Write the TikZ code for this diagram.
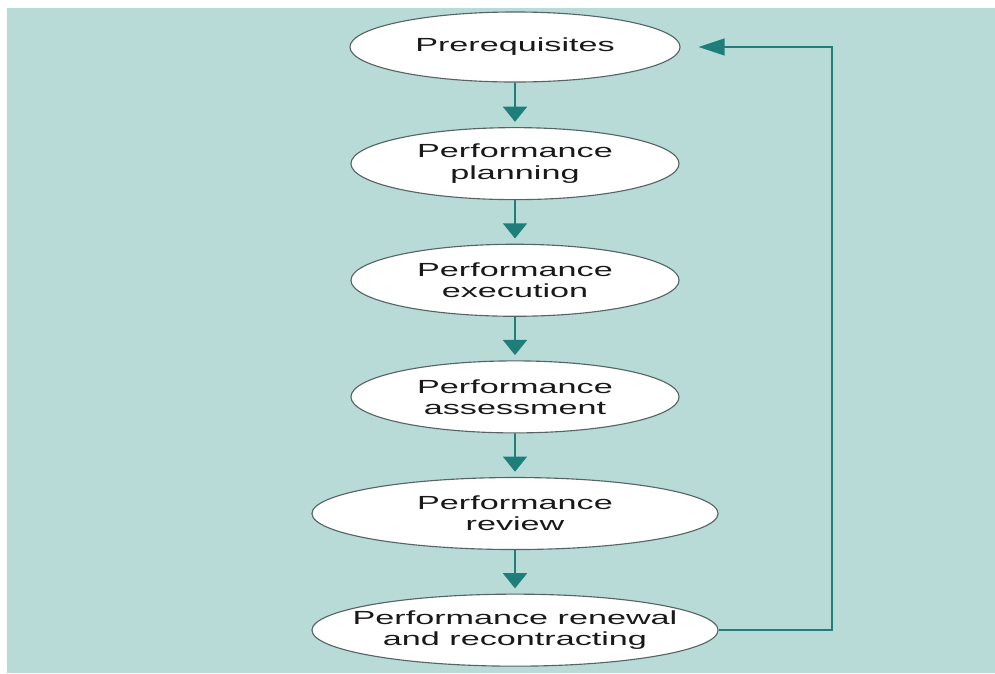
\documentclass[tikz,border=0pt]{standalone}
\usepackage{fontspec}
\newfontfamily\stagefont{Liberation Sans}[FakeStretch=1.8]
\usetikzlibrary{trees}
\usetikzlibrary{shapes}
\usetikzlibrary{arrows.meta}
\definecolor{bgteal}{HTML}{B8DBD8}
\definecolor{arrowteal}{HTML}{1E7E79}
\definecolor{rimgray}{HTML}{566464}
\tikzset{
    mynode/.style = {ellipse, draw=rimgray, line width=0.8pt, fill=white, align=center, inner sep=0pt, inner xsep=-0.6cm, minimum width=8.2cm, minimum height=1.8cm, font=\stagefont\fontsize{13.5}{15}\selectfont, text=black!90},
    mynodew/.style = {mynode, minimum width=10.15cm},
    edgen/.style = {-{Triangle[width=0.6cm,length=0.38cm]}, line width=1.4pt, arrowteal},
    edgeb/.style = {-{Triangle[width=0.42cm,length=0.65cm]}, line width=1.4pt, arrowteal}, % back
}
\begin{document}
\begin{tikzpicture}[
  x=0.025cm, y=-0.025cm,
  grow=down,
  level distance=2.915cm,
  edge from parent/.style={draw, edgen, shorten >=0.13cm}]
  \useasboundingbox (0,0) rectangle (995,673);
  \fill[bgteal] (7,8) rectangle (995,673);
  \node[mynode, minimum width=8.25cm, minimum height=1.75cm] (pre) at (515,47) {Prerequisites}
    child {node[mynode] (plan) {Performance\\planning}
      child {node[mynode] (exec) {Performance\\execution}
        child {node[mynode] (asse) {Performance\\assessment}
          child {node[mynodew] (revi) {Performance\\review}
            child {node[mynodew] (rene) {Performance renewal\\and recontracting}}
          }
        }
      }
    };
  \coordinate (turn) at (832,47);
  \draw[edgeb, shorten >=0.45cm] (rene.east) -| (turn) -- (pre.east);
\end{tikzpicture}
\end{document}
